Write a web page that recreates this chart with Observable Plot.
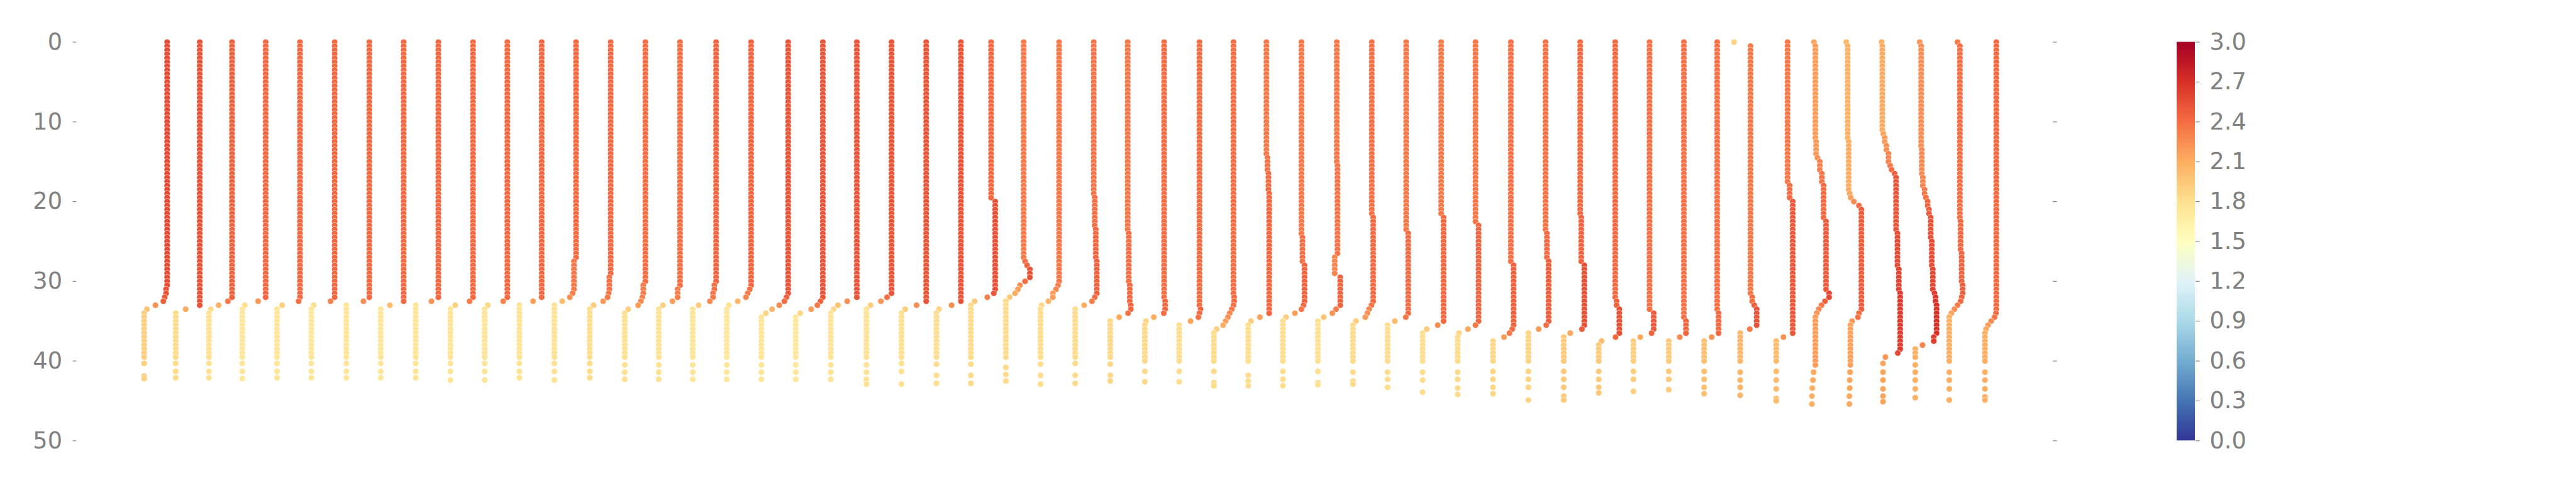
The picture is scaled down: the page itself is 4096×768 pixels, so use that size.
<!DOCTYPE html>
<html><head><meta charset="utf-8">
<script src="https://cdn.jsdelivr.net/npm/d3@7"></script>
<script src="https://cdn.jsdelivr.net/npm/@observablehq/plot@0.6"></script>
<style>
html,body{margin:0;padding:0;background:#fff;}
#wrap{position:relative;width:4096px;height:768px;overflow:hidden;background:#fff;}
</style></head><body><div id="wrap"></div>
<script>
// ---- data ----
// time (x base) of each profile; x position of a point = time + value
const profileTimes = [0.07,1.06,2.07,3.09,4.09,5.10,6.11,7.11,8.12,9.13,10.13,11.13,12.13,13.14,14.17,15.18,16.19,17.21,18.21,19.22,20.21,21.22,22.23,23.24,24.22,25.24,26.26,27.26,28.26,29.28,30.30,31.30,32.31,33.33,34.36,35.35,36.38,37.40,38.40,39.40,40.41,41.38,42.40,43.44,44.44,45.41,46.41,47.49,48.47,49.51,50.48,51.48,52.46,53.50];
// readings per profile: "depth:value" single reading, "d1-d2:value" = the same reading in every 0.5 m bin from d1 to d2
const binStep = 0.5;
const profileReadings = [
"0-30.5:2.57 31-31.5:2.54 32:2.5 32.5:2.46 33:2.23 33.5:1.98 34-39.5:1.9 40.3:1.9 41.9:1.9 42.2:1.9",
"0-33:2.53 33.5:2.12 34-39.5:1.83 40.3:1.83 41.3:1.83 42.1:1.83",
"0-32:2.46 32.5:2.34 33:2.07 33.5:1.84 34-39.5:1.79 40.3:1.79 41.3:1.79 42.1:1.79",
"0-32:2.42 32.5:2.2 33:1.81 33.5-39.5:1.74 40.3:1.74 41.3:1.74 42.2:1.74",
"0-32:2.42 32.5:2.38 33:1.9 33.5-39.5:1.75 40.3:1.75 41.3:1.75 42.1:1.75",
"0-32:2.42 32.5:2.3 33:1.81 33.5-39.5:1.74 40.3:1.74 41.3:1.74 42.1:1.74",
"0-32:2.42 32.5:2.25 33-39.5:1.75 40.3:1.75 41.3:1.75 42.1:1.75",
"0-32.5:2.42 33:2.02 33.5-39.5:1.75 40.3:1.75 41.3:1.75 42.1:1.75",
"0-32:2.42 32.5:2.22 33-39.5:1.76 40.3:1.76 41.3:1.76 42.1:1.76",
"0-32:2.42 32.5:2.32 33:1.9 33.5-39.5:1.76 40.3:1.76 41.3:1.76 42.4:1.76",
"0-32:2.42 32.5:2.3 33:1.85 33.5-39.5:1.76 40.3:1.76 41.3:1.76 42.4:1.76",
"0-32:2.42 32.5:2.17 33-39.5:1.77 40.3:1.77 41.3:1.77 42.1:1.77",
"0-27:2.42 27.5-31:2.36 31.5:2.32 32:2.24 32.5:2.02 33-39.5:1.79 40.3:1.79 41.3:1.79 42.4:1.79",
"0-29:2.42 29.5-31:2.38 31.5:2.36 32:2.33 32.5:2.2 33:1.92 33.5-39.5:1.81 40.3:1.81 41.3:1.81 42.1:1.81",
"0-30:2.4 30.5-31.5:2.34 32:2.31 32.5:2.27 33:2.19 33.5:1.9 34-39.5:1.8 40.5:1.8 41.4:1.8 42.3:1.8",
"0-30.5:2.4 31-32:2.33 32.5:2.18 33:1.9 33.5-39.5:1.78 40.5:1.78 41.4:1.78 42.3:1.78",
"0-30:2.44 30.5-31:2.39 31.5-32:2.35 32.5:2.26 33:1.93 33.5-39.5:1.76 40.5:1.76 41.4:1.76 42.3:1.76",
"0-30.5:2.44 31:2.4 31.5:2.34 32:2.29 32.5:2.05 33:1.79 33.5-39.5:1.73 40.5:1.73 41.4:1.73 42.3:1.73",
"0-31.5:2.52 32:2.47 32.5:2.41 33:2.26 33.5:2.05 34:1.87 34.5-39.5:1.74 40.5:1.74 41.4:1.74 42.3:1.74",
"0-32:2.52 32.5:2.45 33:2.36 33.5:2.18 34:1.86 34.5-39.5:1.73 40.5:1.73 41.4:1.73 42.3:1.73",
"0-32:2.52 32.5:2.24 33:1.97 33.5:1.84 34-39.5:1.76 40.5:1.76 41.4:1.76 42.3:1.76",
"0-31.5:2.52 32:2.39 32.5:2.21 33:1.91 33.5-39.5:1.79 40.5:1.79 41.4:1.79 42.3:1.79 42.9:1.79",
"0-32.5:2.52 33:2.24 33.5:1.91 34-39.5:1.8 40.3:1.8 41.3:1.8 42.9:1.8",
"0-32.5:2.52 33:2.25 33.5:1.88 34-39.5:1.81 40.4:1.81 41.8:1.81 42.8:1.81",
"0-19.5:2.42 20-31:2.54 31.5:2.5 32:2.31 32.5:1.94 33-39.5:1.83 40.4:1.83 41.8:1.83 42.8:1.83",
"0-27:2.35 27.5:2.39 28:2.45 28.5-29.5:2.53 30:2.39 30.5:2.24 31:2.18 31.5:2.1 32:1.94 32.5-39.5:1.83 40.8:1.83 41.7:1.83 42.5:1.83",
"0-30:2.36 30.5:2.33 31:2.27 31.5-32:2.18 32.5:2.05 33:1.85 33.5-39.5:1.82 40.4:1.82 41.8:1.82 42.9:1.82",
"0-19:2.37 19.5-23:2.4 23.5-27:2.43 27.5-31.5:2.46 32:2.4 32.5:2.32 33:2.09 33.5-39.5:1.83 40.3:1.83 41.8:1.83 42.8:1.83",
"0-23.5:2.36 24-30:2.39 30.5-32.5:2.42 33-33.5:2.45 34:2.37 34.5:2.11 35-39.5:1.85 40.4:1.85 41.8:1.85 42.5:1.85",
"0-32:2.4 32.5-33.5:2.43 34:2.39 34.5:2.1 35:1.87 35.5-40:1.84 41.3:1.84 42.6:1.84",
"0-33:2.41 33.5:2.44 34:2.41 34.5:2.38 35:2.15 35.5-40:1.82 41.3:1.82 42.6:1.82",
"0-31.5:2.4 32-32.5:2.42 33:2.4 33.5:2.35 34:2.29 34.5:2.24 35:2.17 35.5:2.1 36:1.91 36.5-40:1.83 41.3:1.83 42.7:1.83 43.1:1.83",
"0-14:2.35 14.5-16:2.38 16.5-18.5:2.41 19-34:2.43 34.5:2.16 35:1.9 35.5-40:1.82 41.8:1.82 42.5:1.82 43.1:1.82",
"0-24:2.35 24.5-27.5:2.38 28-32.5:2.44 33:2.41 33.5:2.35 34:2.16 34.5:1.9 35-40:1.81 41.3:1.81 42.3:1.81 43.1:1.81",
"0-15:2.35 15.5-26.5:2.37 27-29:2.29 29.5-33:2.45 33.5:2.33 34:2.22 34.5:1.97 35-40:1.8 41.3:1.8 42.7:1.8 43:1.8",
"0-21.5:2.38 22-32.5:2.42 33:2.37 33.5:2.3 34:2.25 34.5:2.19 35:1.92 35.5-40:1.83 41.4:1.83 42.5:1.83 42.9:1.83",
"0-23.5:2.35 24-34:2.41 34.5:2.34 35:2.02 35.5-40:1.81 41.4:1.81 42.3:1.81 43.3:1.81",
"0-21.5:2.35 22-35:2.42 35.5:2.25 36:1.93 36.5-40:1.81 41.4:1.81 42.4:1.81 43.9:1.81",
"0-22.5:2.35 23-35:2.44 35.5:2.35 36:2.13 36.5:1.87 37-40:1.83 41.4:1.83 42.3:1.83 43.4:1.83 44.2:1.83",
"0-27.5:2.38 28-35.5:2.46 36:2.42 36.5:2.34 37:2.18 37.5-40:1.86 41.3:1.86 42.3:1.86 43.3:1.86 44.1:1.86",
"0-23.5:2.38 24-27:2.42 27.5-35:2.47 35.5:2.4 36:2.18 36.5-40:1.88 41.3:1.88 42.3:1.88 43.3:1.88 44.9:1.88",
"0-21.5:2.42 22-27.5:2.45 28-35.5:2.54 36:2.47 36.5:2.13 37-40:1.94 41.3:1.94 42.3:1.94 43.3:1.94 44.4:1.94 44.9:1.94",
"0-32:2.42 32.5-33:2.46 33.5-36.5:2.54 37:2.43 37.5:2.02 38-40:1.94 41.3:1.94 42.3:1.94 43.3:1.94 44:1.94",
"0-33.5:2.38 34-36:2.5 36.5:2.44 37:2.11 37.5-40:1.91 41.3:1.91 42.3:1.91 43.8:1.91",
"0-34.5:2.38 35-36.5:2.44 37:2.26 37.5-40:1.94 41.3:1.94 42.3:1.94 43.6:1.94",
"0-33.5:2.38 34-36.5:2.42 37:2.22 37.5-40:2 41.3:2 42.3:2 43.3:2 44.1:2",
"0:1.87 0.5-31.5:2.35 32-32.5:2.4 33:2.46 33.5-35.5:2.53 36:2.33 36.5-40:2.05 41.4:2.05 42.4:2.05 43.3:2.05 44.3:2.05",
"0-17.5:2.35 18-19.5:2.41 20-36.5:2.5 37:2.23 37.5-40:2.02 41.3:2.02 42.4:2.02 43.5:2.02 44.7:2.02 45:2.02",
"0:2.14 0.5-12:2.18 12.5-14:2.2 14.5:2.24 15-16:2.31 16.5-17.5:2.37 18-22:2.42 22.5-31:2.49 31.5-32:2.58 32.5:2.46 33:2.36 33.5:2.28 34:2.22 34.5-40.5:2.18 41.4:2.13 42.4:2.11 43.4:2.09 44.4:2.08 45.4:2.08",
"0:2.04 0.5-12:2.08 12.5-18.5:2.11 19:2.14 19.5:2.17 20:2.26 20.5:2.41 21-33.5:2.48 34:2.41 34.5:2.38 35:2.21 35.5-40.5:2.16 41.4:2.15 42.4:2.14 43.4:2.14 44.4:2.13 45.4:2.13",
"0:2.1 0.5-11:2.12 11.5:2.15 12-12.5:2.19 13-13.5:2.24 14-15:2.3 15.5:2.35 16:2.39 16.5:2.48 17-23.5:2.52 24-28:2.56 28.5-31:2.6 31.5-38.5:2.64 39:2.57 39.5:2.21 40.3:2.14 41.4:2.14 42.4:2.14 43.5:2.14 44.4:2.14 45.1:2.14",
"0:2.21 0.5-13:2.25 13.5-16.5:2.27 17-18:2.3 18.5-19:2.35 19.5:2.39 20-20.5:2.44 21-21.5:2.48 22-24.5:2.53 25-28:2.56 28.5-31:2.59 31.5:2.64 32-32.5:2.67 33-36.5:2.7 37-37.5:2.62 38:2.29 38.5-39.5:2.08 40.5:2.08 41.4:2.08 42.4:2.08 43.5:2.08 44.6:2.08",
"0:2.33 0.5-22:2.4 22.5-26:2.42 26.5-30:2.45 30.5-31.5:2.48 32:2.45 32.5:2.42 33:2.33 33.5:2.24 34:2.15 34.5-40:2.09 41.4:2.09 42.4:2.09 43.5:2.09 44.9:2.09",
"0-33.5:2.42 34:2.41 34.5:2.37 35:2.27 35.5:2.18 36:2.12 36.5-40:2.09 41.4:2.09 42.4:2.09 43.5:2.09 44.5:2.09 44.9:2.09"
];
const depthTicks = [0, 10, 20, 30, 40, 50];
const colorTicks = [0, 0.3, 0.6, 0.9, 1.2, 1.5, 1.8, 2.1, 2.4, 2.7, 3.0];
const colormapStops = ["#313695","#4575b4","#74add1","#abd9e9","#e0f3f8","#ffffbf","#fee090","#fdae61","#f46d43","#d73027","#a50026"];

// ---- build table ----
const rows = [];
profileReadings.forEach((str, i) => {
  for (const tok of str.trim().split(/\s+/)) {
    const [rng, val] = tok.split(":");
    const v = +val;
    const m = rng.match(/^([\d.]+)-([\d.]+)$/);
    if (m) {
      for (let d = +m[1]; d <= +m[2] + 1e-9; d += binStep) rows.push({profile: i, depth: d, value: v, pos: profileTimes[i] + v});
    } else {
      rows.push({profile: i, depth: +rng, value: v, pos: profileTimes[i] + v});
    }
  }
});

const S = 0.853;
const W = 4096, H = 768;
const mTop = 78 * S, mBottom = H - 821 * S;
const colorScale = {type: "linear", domain: colorTicks, range: colormapStops, interpolate: "rgb", clamp: true};
const font = "DejaVu Sans";
const gray = "#808080";

const main = Plot.plot({
  width: W, height: H,
  marginLeft: 142 * S, marginRight: W - 3825 * S, marginTop: mTop, marginBottom: mBottom,
  style: {fontFamily: font, background: "transparent", color: gray, overflow: "visible"},
  x: {domain: [0, 57.55], axis: null},
  y: {domain: [0, 50], reverse: true, axis: null, label: null},
  color: colorScale,
  marks: [
    Plot.axisY(depthTicks, {anchor: "left", tickSize: 6.5 * S, tickPadding: 20 * S, fontSize: 43 * S, strokeWidth: 1.1, label: null, color: gray}),
    Plot.axisY(depthTicks, {anchor: "right", tickSize: 8 * S, tickFormat: () => "", strokeWidth: 1.1, label: null, color: gray}),
    Plot.dot(rows, {x: "pos", y: "depth", r: 5.7 * S, fill: "value", stroke: "white", strokeWidth: 0.6})
  ]
});
main.style.position = "absolute"; main.style.left = "0px"; main.style.top = "0px";
document.getElementById("wrap").appendChild(main);

// ---- colorbar ----
const gradStep = 0.01;
const gradientSteps = d3.range(0, 3, gradStep);
const cbW = 300, cbBar = (4092 - 4058) * S;
const cbar = Plot.plot({
  width: cbW, height: H,
  marginLeft: 0, marginRight: cbW - cbBar, marginTop: mTop, marginBottom: mBottom,
  style: {fontFamily: font, background: "transparent", color: gray, overflow: "visible"},
  x: {domain: [0, 1], axis: null},
  y: {domain: [0, 3], axis: null, label: null},
  color: colorScale,
  marks: [
    Plot.rect(gradientSteps, {x1: 0, x2: 1, y1: d => d, y2: d => Math.min(3, d + gradStep * 1.6), fill: d => d + gradStep / 2}),
    Plot.axisY(colorTicks, {anchor: "right", tickSize: 8 * S, tickPadding: 19 * S, fontSize: 43 * S, strokeWidth: 1.1, tickFormat: d3.format(".1f"), label: null, color: gray})
  ]
});
cbar.style.position = "absolute"; cbar.style.left = (4058 * S) + "px"; cbar.style.top = "0px";
document.getElementById("wrap").appendChild(cbar);
</script>
</body></html>
